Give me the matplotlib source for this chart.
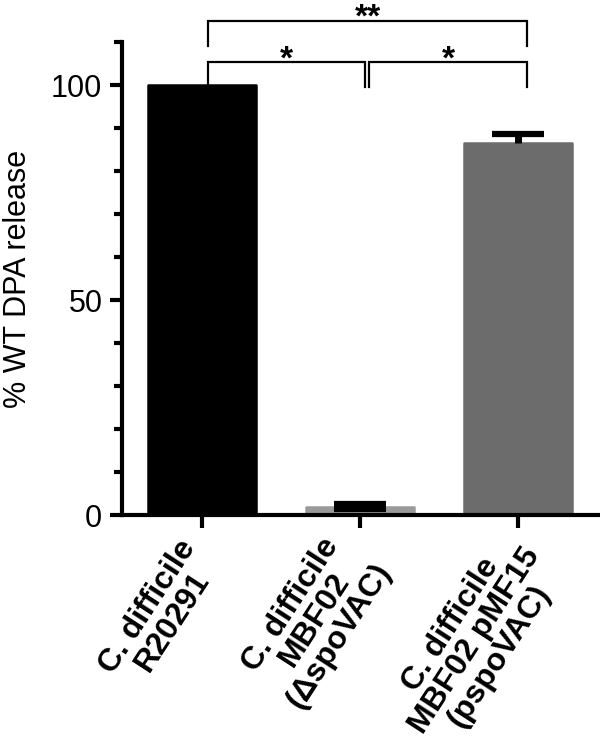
import matplotlib
matplotlib.use("Agg")
import matplotlib.pyplot as plt
from matplotlib.ticker import MultipleLocator


STRAINS = [
    "C. difficile\nR20291",
    "C. difficile\nMBF02\n(\u0394spoVAC)",
    "C. difficile\nMBF02 pMF15\n(pspoVAC)",
]
DPA_RELEASE = [100.0, 2.0, 86.5]
ERR_LOW = [0.0, 0.6, 0.0]
ERR_HIGH = [0.0, 0.6, 2.2]
BAR_COLORS = ["#000000", "#9a9a9a", "#6c6c6c"]

# significance brackets: (left x, right x, bar y, leg bottom y, label)
BRACKETS = [
    (0.04, 1.03, 105.3, 99.6, "*"),
    (1.06, 2.06, 105.3, 99.6, "*"),
    (0.04, 2.06, 115.0, 109.0, "**"),
]

plt.rcParams["font.family"] = ["Liberation Sans", "DejaVu Sans"]

fig = plt.figure(figsize=(6.0, 7.38), dpi=100)
ax = fig.add_axes([0.203, 0.302, 0.797, 0.641])

x = list(range(len(STRAINS)))
# thin edge in the fill colour with round joins gives the soft corners
bars = ax.bar(x, DPA_RELEASE, width=0.685, color=BAR_COLORS,
              edgecolor=BAR_COLORS, linewidth=1.8, zorder=2)
for b in bars:
    b.set_joinstyle("round")

# error bars drawn by hand so that one-sided bars get only one cap
cap_half = 0.165
for xi, m, lo, hi in zip(x, DPA_RELEASE, ERR_LOW, ERR_HIGH):
    if hi > 0:
        ax.vlines(xi, m, m + hi, color="black", lw=5, zorder=3)
        ax.hlines(m + hi, xi - cap_half, xi + cap_half, color="black", lw=4.5, zorder=3)
    if lo > 0:
        ax.vlines(xi, m - lo, m, color="black", lw=5, zorder=3)
        ax.hlines(m - lo, xi - cap_half, xi + cap_half, color="black", lw=4.5, zorder=3)

ax.set_xlim(-0.506, 2.519)
ax.set_ylim(0, 110)

for side in ["top", "right"]:
    ax.spines[side].set_visible(False)
for side in ["left", "bottom"]:
    ax.spines[side].set_linewidth(3)

ax.yaxis.set_major_locator(MultipleLocator(50))
ax.yaxis.set_minor_locator(MultipleLocator(10))
ax.tick_params(axis="y", which="major", length=9, width=3, labelsize=22, pad=5)
ax.tick_params(axis="y", which="minor", length=6, width=3)
ax.tick_params(axis="x", which="major", length=9, width=3)

ax.set_xticks(x)
ax.set_xticklabels([])

# category labels, anchored at their centre-right end just below each tick
label_dx = [0.0, 0.0, 0.10]
for xi, name, dx in zip(x, STRAINS, label_dx):
    ax.text(xi + dx, -0.074, name, transform=ax.get_xaxis_transform(),
            rotation=57, ha="right", va="center", rotation_mode="anchor",
            fontsize=23, fontweight="bold", multialignment="center",
            linespacing=0.95)

ax.set_ylabel("% WT DPA release", fontsize=22)
ax.yaxis.set_label_coords(-0.185, 0.5)

for x0, x1, yb, yl, txt in BRACKETS:
    ax.plot([x0, x0, x1, x1], [yl, yb, yb, yl], color="black", lw=1.6,
            clip_on=False, solid_joinstyle="miter")
    ax.text((x0 + x1) / 2, yb - 1.5, txt, ha="center", va="baseline",
            fontsize=24, fontweight="bold", clip_on=False)

fig.savefig("out.png", dpi=100)
